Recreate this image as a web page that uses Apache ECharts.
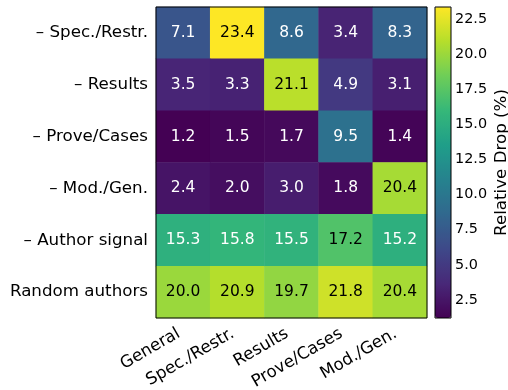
<!DOCTYPE html>
<html>
<head>
<meta charset="utf-8">
<script src="https://cdn.jsdelivr.net/npm/echarts@6/dist/echarts.min.js"></script>
<style>html,body{margin:0;padding:0;background:#fff}#c{width:508px;height:390px}</style>
</head>
<body>
<div id="c"></div>
<script>
const xCats = ['General', 'Spec./Restr.', 'Results', 'Prove/Cases', 'Mod./Gen.'];
const yCats = ['\u2013 Spec./Restr.', '\u2013 Results', '\u2013 Prove/Cases', '\u2013 Mod./Gen.', '\u2013 Author signal', 'Random authors'];
const rowSpec = [7.1, 23.4, 8.6, 3.4, 8.3];
const rowResults = [3.5, 3.3, 21.1, 4.9, 3.1];
const rowProve = [1.2, 1.5, 1.7, 9.5, 1.4];
const rowMod = [2.4, 2.0, 3.0, 1.8, 20.4];
const rowAuthor = [15.3, 15.8, 15.5, 17.2, 15.2];
const rowRandom = [20.0, 20.9, 19.7, 21.8, 20.4];
const cbarTicks = [2.5, 5.0, 7.5, 10.0, 12.5, 15.0, 17.5, 20.0, 22.5];
const cbarMin = 1.2, cbarMax = 23.4;

const rows = [rowSpec, rowResults, rowProve, rowMod, rowAuthor, rowRandom];
const viridis = ['#440154', '#482878', '#3e4989', '#31688e', '#26828e', '#1f9e89', '#35b779', '#6ece58', '#b5de2b', '#fde725'];
const font = 'DejaVu Sans';
const data = [];
rows.forEach((r, yi) => r.forEach((v, xi) => {
  data.push({ value: [xi, yi, v], label: { color: v > 16 ? '#000' : '#fff' } });
}));

const chart = echarts.init(document.getElementById('c'), null, { renderer: 'canvas' });
chart.setOption({
  animation: false,
  textStyle: { fontFamily: font },
  grid: [
    { left: 156, top: 7, width: 271, height: 311, show: true, z: 10, borderColor: '#000', borderWidth: 1, backgroundColor: 'transparent', outerBoundsMode: 'none', containLabel: false },
    { left: 435, top: 7, width: 16, height: 311, show: true, z: 10, borderColor: '#000', borderWidth: 1, backgroundColor: 'transparent', outerBoundsMode: 'none', containLabel: false }
  ],
  xAxis: [
    { type: 'category', data: xCats, gridIndex: 0, axisLine: { show: false }, splitLine: { show: false },
      axisTick: { alignWithLabel: true, length: 5, lineStyle: { color: '#000' } },
      axisLabel: { rotate: 30, interval: 0, fontSize: 16.7, color: '#000', fontFamily: font, margin: 12, padding: [0, 5, 0, 0] } },
    { type: 'value', gridIndex: 1, show: false, min: 0, max: 1 }
  ],
  yAxis: [
    { type: 'category', data: yCats, inverse: true, gridIndex: 0, axisLine: { show: false }, splitLine: { show: false },
      axisTick: { alignWithLabel: true, length: 5, lineStyle: { color: '#000' } },
      axisLabel: { fontSize: 16.7, color: '#000', fontFamily: font, margin: 8 } },
    { type: 'value', gridIndex: 1, min: cbarMin, max: cbarMax, position: 'right', axisLine: { show: false }, splitLine: { show: false },
      axisTick: { show: true, customValues: cbarTicks, length: 4, lineStyle: { color: '#000' } },
      axisLabel: { customValues: cbarTicks, formatter: v => v.toFixed(1), fontSize: 14.4, color: '#000', fontFamily: font, margin: 4 },
      name: 'Relative Drop (%)', nameLocation: 'middle', nameRotate: 90, nameGap: 42,
      nameTextStyle: { fontSize: 16.7, color: '#000', fontFamily: font } }
  ],
  visualMap: {
    type: 'continuous', min: cbarMin, max: cbarMax, calculable: false, seriesIndex: 0, orient: 'vertical',
    left: 435, top: 7, itemWidth: 16, itemHeight: 311, padding: 0, text: null, showLabel: false,
    inRange: { color: viridis }
  },
  series: [{
    type: 'heatmap', xAxisIndex: 0, yAxisIndex: 0, data: data,
    itemStyle: { borderWidth: 0 },
    label: { show: true, fontSize: 15.5, fontFamily: font, formatter: p => p.value[2].toFixed(1) },
    emphasis: { disabled: true }
  }]
});
</script>
</body>
</html>
